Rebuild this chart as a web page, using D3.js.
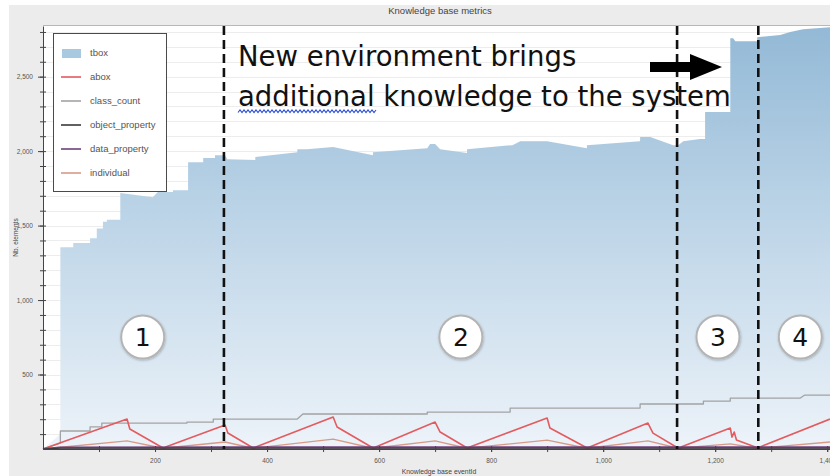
<!DOCTYPE html>
<html>
<head>
<meta charset="utf-8">
<script src="https://cdn.jsdelivr.net/npm/d3@7"></script>
<style>
  body { margin: 0; background: #fff; }
  svg { display: block; font-family: "Liberation Sans", Arial, sans-serif; }
</style>
</head>
<body>
<div class="graph"></div>
<script>

// ---- data: [eventId, number of elements] ----

var tbox = [[0,0],[31,100],[31,1355],[54,1355],[54,1383],[84,1383],[84,1415],[96,1415],[96,1480],
    [107,1480],[107,1525],[114,1525],[114,1540],[138,1540],[138,1718],[196,1691],[205,1725],[232,1725],
    [232,1738],[259,1738],[259,1926],[286,1926],[286,1953],[307,1953],[307,1973],[325,1973],[329,1946],
    [379,1940],[379,1960],[454,1993],[454,2013],[471,2013],[518,2027],[589,1973],[589,1993],[686,2020],
    [691,2047],[700,2047],[709,2013],[757,1987],[757,2013],[838,2040],[852,2067],[900,2067],[971,2020],
    [971,2040],[1066,2067],[1066,2094],[1084,2094],[1125,2040],[1134,2040],[1143,2067],[1173,2081],
    [1182,2081],[1182,2262],[1227,2262],[1227,2758],[1232,2758],[1236,2738],[1275,2738],[1275,2765],
    [1316,2779],[1334,2799],[1357,2819],[1405,2832]];

var abox = [[0,0],[150,201],[155,134],[212,12],[216,5],[220,15],[325,161],[330,107],[373,12],[377,5],
    [381,15],[518,215],[525,148],[587,12],[591,5],[595,15],[700,181],[709,114],[755,12],[759,5],[763,15],
    [900,208],[905,141],[969,12],[973,5],[977,15],[1080,174],[1089,107],[1132,10],[1136,3],[1140,15],
    [1227,141],[1230,80],[1234,114],[1238,60],[1273,12],[1277,5],[1281,15],[1405,201]];

var classCount = [[0,0],[31,40],[31,121],[84,121],[84,148],[105,148],[105,174],[257,174],[257,181],
    [304,181],[304,201],[454,201],[464,235],[686,235],[686,248],[834,248],[834,275],[1066,275],
    [1066,302],[1179,302],[1179,322],[1227,322],[1227,342],[1352,342],[1360,362],[1405,362]];

var objectProperty = [[0,0],[31,5],[1405,5]];

var dataProperty = [[0,0],[31,10],[1405,11]];

var individual = [[0,0],[150,54],[214,5],[325,47],[375,5],[518,67],[589,5],[700,54],[757,5],
    [900,60],[971,5],[1080,54],[1134,5],[1227,34],[1275,5],[1405,47]];

var seriesNames = ["tbox", "abox", "class_count", "object_property", "data_property", "individual"];
var seriesColors = ["#a9c9e1", "#e35b5f", "#a3a3a3", "#3a3a3a", "#70407a", "#d79a86"];

var yMajorTicks = [500, 1000, 1500, 2000, 2500];
var xMajorTicks = [200, 400, 600, 800, 1000, 1200, 1400];

// annotations: phase borders and phase numbers
var phaseBorders = [323, 1132, 1277];
var phaseLabels = ["1", "2", "3", "4"];
var phaseCenters = [178, 746, 1205, 1352];
var noteLines = ["New environment brings", "additional knowledge to the system"];

// ---- layout ----

var W = 830, H = 476;
var margin = {top: 26, right: 0, bottom: 27, left: 43};
var width = W - margin.left - margin.right;
var height = H - margin.top - margin.bottom;

var x = d3.scaleLinear().domain([0, 1405]).range([0, width]);
var y = d3.scaleLinear().domain([0, 2840]).range([height, 0]);

var root = d3.select(".graph").append("svg")
    .attr("width", W)
    .attr("height", H);

// outer grey panel (a thin white strip stays on the top and left)
root.append("rect").attr("x", 9).attr("y", 5).attr("width", W - 9).attr("height", H - 5).attr("fill", "#ececec");

root.append("text")
    .attr("x", 440).attr("y", 14)
    .attr("text-anchor", "middle")
    .attr("font-size", 9.5)
    .attr("fill", "#444")
    .text("Knowledge base metrics");

var defs = root.append("defs");
var grad = defs.append("linearGradient")
    .attr("id", "tboxFill")
    .attr("gradientUnits", "userSpaceOnUse")
    .attr("x1", 0).attr("y1", 0).attr("x2", 0).attr("y2", height);
grad.append("stop").attr("offset", 0).attr("stop-color", "#93b9d6");
grad.append("stop").attr("offset", 0.45).attr("stop-color", "#bcd4e7");
grad.append("stop").attr("offset", 1).attr("stop-color", "#edf3f9");

var shadow = defs.append("filter").attr("id", "soft").attr("x", -0.3).attr("y", -0.3).attr("width", 1.6).attr("height", 1.6);
shadow.append("feDropShadow").attr("dx", 0.5).attr("dy", 1).attr("stdDeviation", 1.2).attr("flood-color", "#000").attr("flood-opacity", 0.25);

var svg = root.append("g")
    .attr("transform", "translate(" + margin.left + "," + margin.top + ")");

// plot background + grid every 100
svg.append("rect").attr("width", width).attr("height", height).attr("fill", "#fff");
svg.append("line").attr("x1", 0).attr("x2", width).attr("y1", -0.5).attr("y2", -0.5).attr("stroke", "#b8b8b8");

svg.append("g").selectAll("line")
    .data(d3.range(100, 2840, 100))
    .enter().append("line")
    .attr("x1", 0).attr("x2", width)
    .attr("y1", function(d) { return Math.round(y(d)) + 0.5; })
    .attr("y2", function(d) { return Math.round(y(d)) + 0.5; })
    .attr("stroke", "#ededed");

// tbox area
var area = d3.area()
    .x(function(d) { return x(d[0]); })
    .y0(height)
    .y1(function(d) { return y(d[1]); });

svg.append("path")
    .datum(tbox)
    .attr("d", area)
    .attr("fill", "url(#tboxFill)");

// the small lines
var line = d3.line()
    .x(function(d) { return x(d[0]); })
    .y(function(d) { return y(d[1]); });

var lineSeries = [
    {data: classCount, color: seriesColors[2], w: 1.3},
    {data: individual, color: seriesColors[5], w: 1.3},
    {data: abox, color: seriesColors[1], w: 1.6},
    {data: dataProperty, color: seriesColors[4], w: 2.2},
    {data: objectProperty, color: seriesColors[3], w: 1.2}
];

svg.selectAll(".series")
    .data(lineSeries)
    .enter().append("path")
    .attr("class", "series")
    .attr("d", function(d) { return line(d.data); })
    .attr("fill", "none")
    .attr("stroke", function(d) { return d.color; })
    .attr("stroke-width", function(d) { return d.w; })
    .attr("stroke-linejoin", "round");

// axes
function styleAxis(g) {
    g.selectAll("path").attr("stroke", "#444");
    g.selectAll("line").attr("stroke", "#444");
    g.selectAll("text").attr("fill", "#555").attr("font-size", 6.5)
        .attr("font-family", "'Liberation Sans', Arial, sans-serif");
}

svg.append("g").call(d3.axisLeft(y).tickValues(d3.range(100, 2840, 100)).tickSize(3).tickFormat(""))
    .call(styleAxis).select(".domain").remove();
svg.append("g").call(d3.axisRight(y).tickValues(d3.range(100, 2840, 100)).tickSize(3).tickFormat(""))
    .call(styleAxis).select(".domain").remove();
svg.append("g").call(d3.axisLeft(y).tickValues(yMajorTicks).tickSize(5).tickPadding(5).tickSizeOuter(0).tickFormat(d3.format(",")))
    .call(styleAxis);

svg.append("g").attr("transform", "translate(0," + height + ")")
    .call(d3.axisBottom(x).tickValues(d3.range(100, 1405, 100)).tickSize(3).tickFormat(""))
    .call(styleAxis).select(".domain").remove();
svg.append("g").attr("transform", "translate(0," + height + ")")
    .call(d3.axisTop(x).tickValues(d3.range(100, 1405, 100)).tickSize(3).tickFormat(""))
    .call(styleAxis).select(".domain").remove();
svg.append("g").attr("transform", "translate(0," + height + ")")
    .call(d3.axisBottom(x).tickValues(xMajorTicks).tickSize(3).tickPadding(6).tickSizeOuter(0).tickFormat(d3.format(",")))
    .call(styleAxis);

svg.append("text")
    .attr("transform", "translate(-25," + (height / 2) + ") rotate(-90)")
    .attr("text-anchor", "middle")
    .attr("font-size", 6.5)
    .attr("fill", "#444")
    .text("Nb. elements");

svg.append("text")
    .attr("x", 396).attr("y", height + 25)
    .attr("text-anchor", "middle")
    .attr("font-size", 6.8)
    .attr("fill", "#444")
    .text("Knowledge base eventId");

// legend
var legend = svg.append("g").attr("transform", "translate(10,7)");
legend.append("rect")
    .attr("x", 0.5).attr("y", 0.5).attr("width", 113).attr("height", 158)
    .attr("fill", "#fff").attr("stroke", "#4a4a4a");

var item = legend.selectAll(".item")
    .data(seriesNames)
    .enter().append("g")
    .attr("class", "item")
    .attr("transform", function(d, i) { return "translate(0," + (20 + i * 24) + ")"; });

item.each(function(d, i) {
    var g = d3.select(this);
    if (i === 0) {
        g.append("rect").attr("x", 9).attr("y", -4).attr("width", 19).attr("height", 9).attr("fill", seriesColors[0]);
    } else {
        g.append("line").attr("x1", 8).attr("x2", 28).attr("y1", 0).attr("y2", 0)
            .attr("stroke", seriesColors[i]).attr("stroke-width", 1.6);
    }
    g.append("text").attr("x", 37).attr("y", 3)
        .attr("font-size", 9.5).attr("fill", "#555").text(d);
});

// dashed phase borders
svg.selectAll(".phase")
    .data(phaseBorders)
    .enter().append("line")
    .attr("class", "phase")
    .attr("x1", function(d) { return x(d); })
    .attr("x2", function(d) { return x(d); })
    .attr("y1", 0).attr("y2", height)
    .attr("stroke", "#111")
    .attr("stroke-width", 2.6)
    .attr("stroke-dasharray", "9,5");

// phase numbers
var badge = svg.selectAll(".badge")
    .data(phaseLabels)
    .enter().append("g")
    .attr("class", "badge")
    .attr("transform", function(d, i) { return "translate(" + x(phaseCenters[i]) + "," + y(752) + ")"; });

badge.append("circle").attr("r", 21.5)
    .attr("fill", "#fff").attr("stroke", "#b4b4b4").attr("stroke-width", 2)
    .attr("filter", "url(#soft)");
badge.append("text")
    .attr("text-anchor", "middle")
    .attr("y", 9)
    .attr("font-family", "'DejaVu Sans', Verdana, sans-serif")
    .attr("font-size", 25)
    .attr("fill", "#111")
    .text(function(d) { return d; });

// annotation text, arrow and the squiggle under "additional"
var note = root.append("g");
note.selectAll("text")
    .data(noteLines)
    .enter().append("text")
    .attr("x", 238)
    .attr("y", function(d, i) { return 66 + i * 40; })
    .attr("font-family", "'DejaVu Sans', Verdana, sans-serif")
    .attr("font-size", 27.5)
    .attr("fill", "#111")
    .text(function(d) { return d; });

var squiggle = d3.range(238, 377, 2).map(function(px, i) { return [px, i % 2 ? 110 : 112.5]; });
note.append("path")
    .attr("d", d3.line()(squiggle))
    .attr("fill", "none").attr("stroke", "#2a4fd6").attr("stroke-width", 1.1);

note.append("path")
    .attr("d", "M650,62 L690,62 L690,54 L722,67 L690,80 L690,72 L650,72 Z")
    .attr("fill", "#000");

</script>
</body>
</html>
